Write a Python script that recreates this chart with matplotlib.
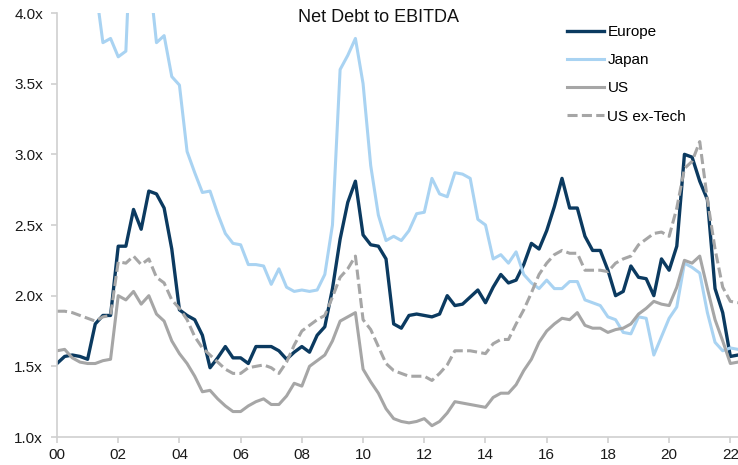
import numpy as np
import matplotlib.pyplot as plt

plt.rcParams['font.family'] = ['Liberation Sans', 'DejaVu Sans']

# quarterly observations, 2000Q1 .. 2022Q2
quarters = np.arange(2000, 2022.5, 0.25)

europe = [1.52, 1.57, 1.58, 1.57, 1.55, 1.80, 1.86, 1.86, 2.35, 2.35,
          2.61, 2.47, 2.74, 2.72, 2.62, 2.33, 1.90, 1.86, 1.83, 1.72,
          1.49, 1.56, 1.64, 1.56, 1.56, 1.52, 1.64, 1.64, 1.64, 1.61,
          1.55, 1.60, 1.64, 1.60, 1.72, 1.78, 2.05, 2.40, 2.66, 2.81,
          2.43, 2.36, 2.35, 2.26, 1.80, 1.77, 1.86, 1.87, 1.86, 1.85,
          1.87, 2.00, 1.93, 1.94, 1.99, 2.04, 1.95, 2.06, 2.15, 2.09,
          2.11, 2.22, 2.37, 2.33, 2.46, 2.63, 2.83, 2.62, 2.62, 2.42,
          2.32, 2.32, 2.18, 2.00, 2.03, 2.21, 2.13, 2.12, 2.00, 2.26,
          2.18, 2.35, 3.00, 2.98, 2.81, 2.68, 2.05, 1.88, 1.57, 1.58]

japan = [4.6, 4.7, 4.6, 4.5, 4.4, 4.2, 3.79, 3.82, 3.69, 3.73,
         5.0, 5.0, 4.3, 3.79, 3.84, 3.55, 3.49, 3.02, 2.87, 2.73,
         2.74, 2.58, 2.44, 2.37, 2.36, 2.22, 2.22, 2.21, 2.08, 2.19,
         2.06, 2.03, 2.04, 2.03, 2.04, 2.15, 2.50, 3.60, 3.70, 3.82,
         3.50, 2.92, 2.57, 2.39, 2.42, 2.39, 2.46, 2.58, 2.59, 2.83,
         2.72, 2.70, 2.87, 2.86, 2.83, 2.54, 2.50, 2.26, 2.29, 2.23,
         2.31, 2.15, 2.09, 2.05, 2.11, 2.05, 2.05, 2.10, 2.10, 1.97,
         1.95, 1.93, 1.85, 1.83, 1.74, 1.73, 1.85, 1.84, 1.58, 1.71,
         1.84, 1.92, 2.23, 2.20, 2.16, 1.88, 1.67, 1.61, 1.63, 1.62]

us = [1.61, 1.62, 1.56, 1.53, 1.52, 1.52, 1.54, 1.55, 2.00, 1.97,
      2.03, 1.94, 2.00, 1.87, 1.82, 1.68, 1.59, 1.52, 1.43, 1.32,
      1.33, 1.27, 1.22, 1.18, 1.18, 1.22, 1.25, 1.27, 1.23, 1.23,
      1.29, 1.38, 1.36, 1.50, 1.54, 1.58, 1.68, 1.82, 1.85, 1.88,
      1.48, 1.39, 1.31, 1.20, 1.13, 1.11, 1.10, 1.11, 1.13, 1.08,
      1.11, 1.17, 1.25, 1.24, 1.23, 1.22, 1.21, 1.28, 1.31, 1.31,
      1.37, 1.47, 1.55, 1.67, 1.75, 1.80, 1.84, 1.83, 1.88, 1.79,
      1.77, 1.77, 1.74, 1.76, 1.77, 1.80, 1.87, 1.91, 1.96, 1.94,
      1.93, 2.06, 2.25, 2.23, 2.28, 2.05, 1.83, 1.68, 1.52, 1.53]

us_ex_tech = [1.89, 1.89, 1.88, 1.86, 1.84, 1.82, 1.85, 1.86, 2.24, 2.23,
              2.28, 2.22, 2.26, 2.13, 2.09, 1.97, 1.91, 1.83, 1.71, 1.63,
              1.58, 1.53, 1.48, 1.45, 1.45, 1.49, 1.50, 1.51, 1.49, 1.45,
              1.53, 1.65, 1.75, 1.79, 1.83, 1.86, 1.99, 2.13, 2.19, 2.28,
              1.83, 1.76, 1.64, 1.52, 1.47, 1.45, 1.43, 1.43, 1.43, 1.40,
              1.45, 1.51, 1.61, 1.61, 1.61, 1.60, 1.59, 1.66, 1.69, 1.69,
              1.80, 1.90, 2.02, 2.15, 2.23, 2.29, 2.32, 2.30, 2.30, 2.18,
              2.18, 2.18, 2.17, 2.23, 2.26, 2.28, 2.36, 2.40, 2.44, 2.45,
              2.42, 2.62, 2.90, 2.95, 3.09, 2.68, 2.33, 2.06, 1.96, 1.95]

xtick_years = [2000, 2002, 2004, 2006, 2008, 2010, 2012, 2014, 2016, 2018, 2020, 2022]
xtick_labels = ['00', '02', '04', '06', '08', '10', '12', '14', '16', '18', '20', '22']
ytick_vals = [1.0, 1.5, 2.0, 2.5, 3.0, 3.5, 4.0]
ytick_labels = ['1.0x', '1.5x', '2.0x', '2.5x', '3.0x', '3.5x', '4.0x']

fig = plt.figure(figsize=(7.38, 4.65), dpi=100)
ax = fig.add_axes([57/738, 1 - 437/465, 1 - 57/738, (437 - 13)/465])

ax.plot(quarters, europe, color='#0b3a60', lw=2.4, label='Europe')
ax.plot(quarters, japan, color='#a9d3f2', lw=2.2, label='Japan')
ax.plot(quarters, us, color='#a6a6a6', lw=2.2, label='US')
ax.plot(quarters, us_ex_tech, color='#a6a6a6', lw=2.2, dashes=(3.3, 1.4), label='US ex-Tech')

ax.set_xlim(2000, 2022.25)
ax.set_ylim(1.0, 4.0)
ax.set_xticks(xtick_years)
ax.set_xticklabels(xtick_labels)
ax.set_yticks(ytick_vals)
ax.set_yticklabels(ytick_labels)

for s in ['top', 'right']:
    ax.spines[s].set_visible(False)
for s in ['left', 'bottom']:
    ax.spines[s].set_color('#d0d0d0')
    ax.spines[s].set_linewidth(1.2)
ax.tick_params(axis='both', colors='#d0d0d0', labelcolor='#1a1a1a',
               labelsize=11, length=4, width=1.2)
ax.tick_params(axis='y', pad=6)
ax.tick_params(axis='x', pad=4)

fig.text(378/738, 1 - 18/465, 'Net Debt to EBITDA', ha='center', va='center',
         fontsize=13, color='#111111')

ax.legend(loc='upper left', bbox_to_anchor=(567/738, 1 - 25/465),
          bbox_transform=fig.transFigure, frameon=False, fontsize=11,
          handlelength=2.4, handletextpad=0.25, labelspacing=0.93,
          borderpad=0, borderaxespad=0)

fig.savefig('out.png', dpi=100)
